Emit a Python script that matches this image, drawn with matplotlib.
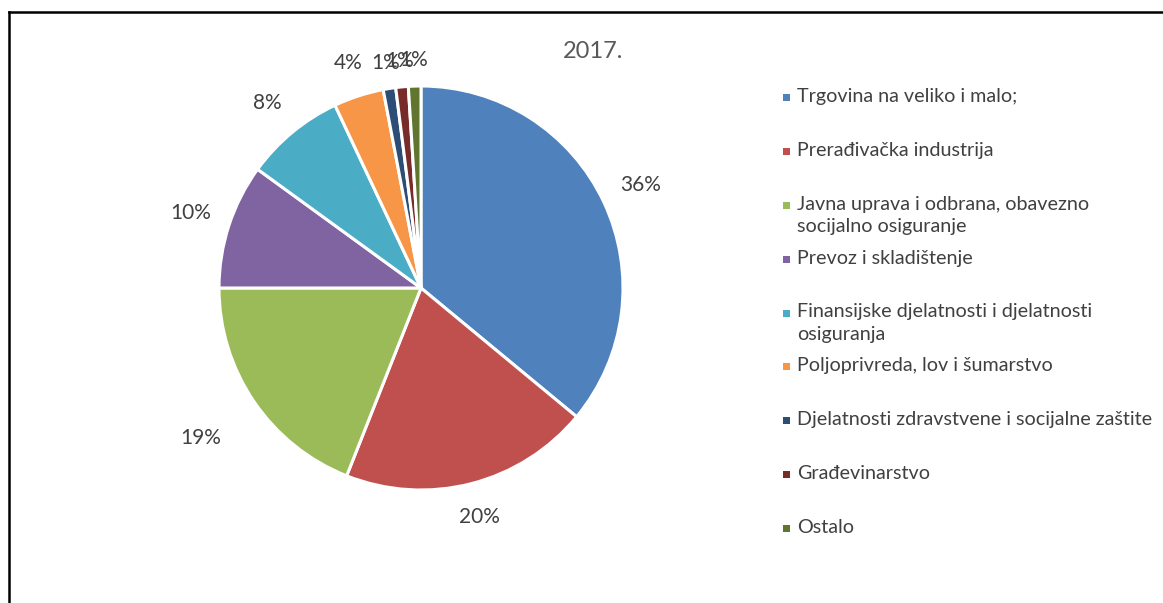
import numpy as np
import matplotlib
matplotlib.use("Agg")
import matplotlib.pyplot as plt
from matplotlib.patches import Rectangle
from matplotlib.lines import Line2D

plt.rcParams['font.family'] = ['Lato', 'DejaVu Sans']

title = "2017."
categories = [
    "Trgovina na veliko i malo;",
    "Prerađivačka industrija",
    "Javna uprava i odbrana, obavezno\nsocijalno osiguranje",
    "Prevoz i skladištenje",
    "Finansijske djelatnosti i djelatnosti\nosiguranja",
    "Poljoprivreda, lov i šumarstvo",
    "Djelatnosti zdravstvene i socijalne zaštite",
    "Građevinarstvo",
    "Ostalo",
]
values = [36, 20, 19, 10, 8, 4, 1, 1, 1]
colors = ["#4F81BD", "#C0504D", "#9BBB59", "#8064A2", "#4BACC6",
          "#F79646", "#2C4D75", "#772C2A", "#5F7530"]
label_radius = [1.20, 1.17, 1.32, 1.20, 1.19, 1.17, 1.13, 1.13, 1.13]

W, H = 1163, 603
fig = plt.figure(figsize=(W / 100, H / 100), dpi=100)
fig.patch.set_facecolor("white")

# border lines (top and left)
fig.add_artist(Line2D([9 / W, 1.0], [1 - 12 / H, 1 - 12 / H], color="black", lw=1.8))
fig.add_artist(Line2D([9 / W, 9 / W], [0, 1 - 12 / H], color="black", lw=1.8))

cx, cy, r = 421, 288, 202
ax = fig.add_axes([(cx - r) / W, 1 - (cy + r) / H, 2 * r / W, 2 * r / H])
wedges, _ = ax.pie(values, colors=colors, startangle=90, counterclock=False,
                   radius=1.0, wedgeprops=dict(edgecolor="white", linewidth=2.2))
ax.set_xlim(-1, 1)
ax.set_ylim(-1, 1)
ax.set_aspect("equal")
ax.axis("off")

total = sum(values)
for w, v, lr in zip(wedges, values, label_radius):
    ang = np.deg2rad((w.theta1 + w.theta2) / 2)
    ax.text(lr * np.cos(ang), lr * np.sin(ang), f"{round(100 * v / total)}%",
            ha="center", va="center", fontsize=15, color="#404040", clip_on=False)

fig.text(593 / W, 1 - 52 / H, title, ha="center", va="center", fontsize=17, color="#595959")

# legend
ys = np.linspace(97, 528, len(categories))
for lab, col, y in zip(categories, colors, ys):
    fig.add_artist(Rectangle(((783) / W, 1 - (y + 4) / H), 7 / W, 7 / H,
                             facecolor=col, edgecolor="none", transform=fig.transFigure))
    fig.text(797 / W, 1 - (y - 9) / H, lab, ha="left", va="top", fontsize=14.2,
             color="#404040", linespacing=1.4)

fig.savefig("out.png", dpi=100)
